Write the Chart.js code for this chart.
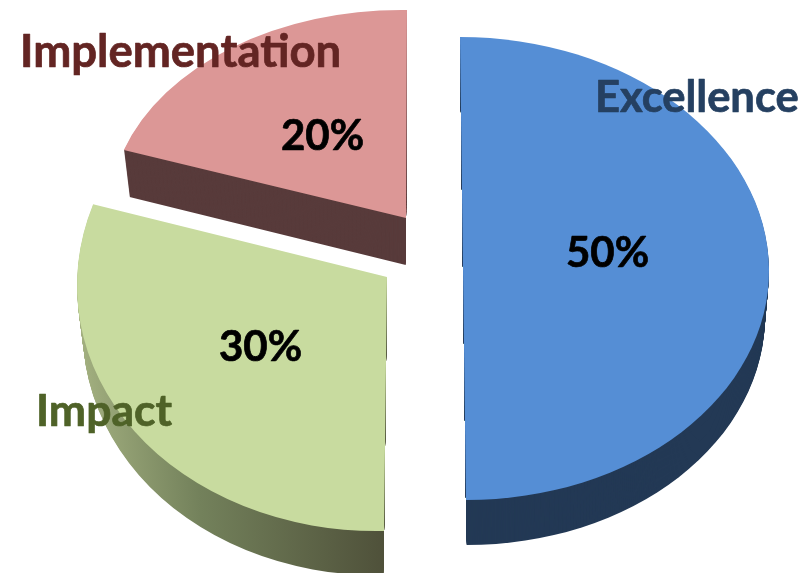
<!DOCTYPE html>
<html>
<head>
<meta charset="utf-8">
<style>
  html, body { margin: 0; padding: 0; background: #fff; overflow: hidden; }
  canvas { display: block; }
</style>
<script src="https://cdn.jsdelivr.net/npm/chart.js@4"></script>
</head>
<body>
<canvas id="pie" width="805" height="573"></canvas>
<script>
var categories = ["Excellence", "Impact", "Implementation"];
var values = [50, 30, 20];
var topColors = ["#558ed5", "#c8db9f", "#dc9796"];
var wallColors = ["#233955", null, "#583b3b"];
var labelColors = ["#254061", "#4f6228", "#632523"];

// where each slice sits once the pie is tipped over: apex, then the tilt matrix
var sliceApex = [[463, 268.5], [387, 277], [406, 218]];
var sliceTilt = [[306, 0, 3, 231.5], [310, -6, -3, 254], [297, 3.9, -1, 208]];
var wallDepth = [45, 44, 47];
var wallShrink = [0.985, 0.98, 0.979];
var namePos = [[595, 112], [36, 426], [20, 67]];
var nameSize = [43.5, 44.5, 45.5];
var percentPos = [[566, 267], [219, 361], [281, 150]];

function placeSlice(ctx, arc, i, depth, shrink) {
  var m = sliceTilt[i];
  var r = arc.outerRadius;
  // walls follow the lean of the straight edge so they don't peek out beside it
  ctx.translate(sliceApex[i][0] + depth * m[2] / m[3], sliceApex[i][1] + depth);
  ctx.transform(m[0] * shrink / r, m[1] / r, m[2] / r, m[3] / r, 0, 0);
  ctx.translate(-arc.x, -arc.y);
}

function drawWith(ctx, arc, color) {
  var orig = arc.options;
  var o = Object.create(orig);
  Object.defineProperty(o, "backgroundColor", { value: color });
  arc.options = o;
  arc.draw(ctx);
  arc.options = orig;
}

var tiltedPie = {
  id: "tiltedPie",
  beforeDatasetsDraw: function(chart) {
    var ctx = chart.ctx;
    var arcs = chart.getDatasetMeta(0).data;
    [2, 1, 0].forEach(function(i) {
      var arc = arcs[i];
      var fill = wallColors[i];
      if (!fill) {
        // green side is shaded left to right
        fill = ctx.createLinearGradient(arc.x - arc.outerRadius, 0, arc.x, 0);
        fill.addColorStop(0, "#a3b080");
        fill.addColorStop(0.4, "#73815b");
        fill.addColorStop(1, "#4f513a");
      }
      for (var d = wallDepth[i]; d > 0; d--) {
        var t = d / wallDepth[i];
        ctx.save();
        placeSlice(ctx, arc, i, d, 1 - (1 - wallShrink[i]) * t);
        drawWith(ctx, arc, fill);
        ctx.restore();
      }
      ctx.save();
      placeSlice(ctx, arc, i, 0, 1);
      arc.draw(ctx);
      ctx.restore();
    });
    return false;
  },
  afterDraw: function(chart) {
    var ctx = chart.ctx;
    ctx.save();
    ctx.textAlign = "left";
    ctx.textBaseline = "alphabetic";
    ctx.lineJoin = "round";
    ctx.lineWidth = 0.7;
    categories.forEach(function(name, i) {
      ctx.font = "bold " + nameSize[i] + "px Lato";
      ctx.fillStyle = ctx.strokeStyle = labelColors[i];
      ctx.fillText(name, namePos[i][0], namePos[i][1]);
      ctx.strokeText(name, namePos[i][0], namePos[i][1]);
      ctx.font = "bold 42px Lato";
      ctx.fillStyle = ctx.strokeStyle = "#000";
      ctx.fillText(values[i] + "%", percentPos[i][0], percentPos[i][1]);
      ctx.strokeText(values[i] + "%", percentPos[i][0], percentPos[i][1]);
    });
    ctx.restore();
  }
};

new Chart(document.getElementById("pie"), {
  type: "pie",
  data: {
    labels: categories,
    datasets: [{ data: values, backgroundColor: topColors, borderWidth: 0 }]
  },
  options: {
    responsive: false,
    animation: false,
    plugins: { legend: { display: false }, tooltip: { enabled: false } }
  },
  plugins: [tiltedPie]
});
</script>
</body>
</html>
